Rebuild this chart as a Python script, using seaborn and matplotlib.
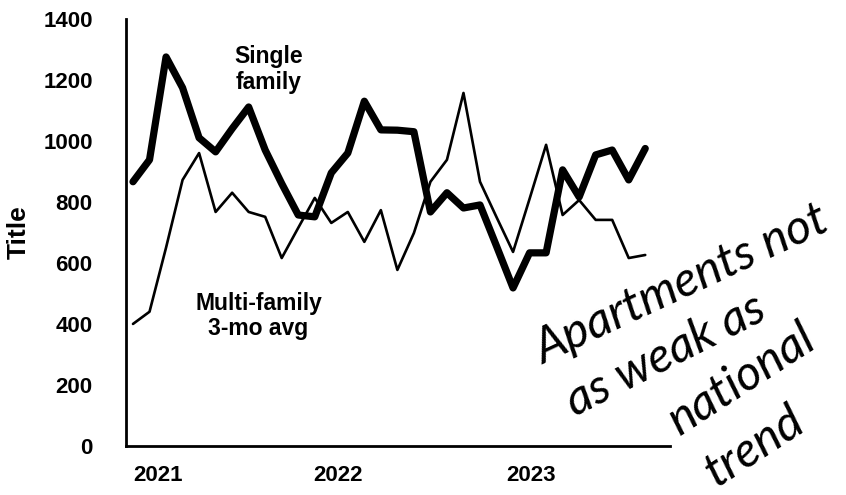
import matplotlib
matplotlib.use('Agg')
import matplotlib.pyplot as plt
import seaborn as sns
import pandas as pd
import numpy as np

# monthly values, Jan 2021 .. Aug 2023
single_family = [866, 938, 1275, 1174, 1010, 964, 1040, 1111, 970, 860,
                 757, 751, 895, 960, 1130, 1036, 1035, 1030, 767, 830,
                 780, 790, 655, 518, 633, 633, 905, 816, 954, 970,
                 872, 975]
multi_family = [400, 440, 650, 872, 960, 767, 830, 767, 751, 616,
                715, 813, 731, 767, 669, 773, 577, 698, 866, 938,
                1157, 866, 750, 636, 810, 987, 757, 806, 741, 741,
                616, 626]
year_labels = ['2021', '2022', '2023']
year_pos = [1.5, 12.4, 24.1]
y_ticks = [0, 200, 400, 600, 800, 1000, 1200, 1400]

df = pd.DataFrame({'month': np.arange(len(single_family)),
                   'single': single_family,
                   'multi': multi_family})

sns.set_theme(style='white', rc={'text.color': 'black', 'xtick.color': 'black',
                                 'ytick.color': 'black', 'axes.labelcolor': 'black'})
plt.rcParams['font.family'] = ['Liberation Sans', 'DejaVu Sans']

fig = plt.figure(figsize=(8.46, 4.95), dpi=100)
ax = fig.add_axes([0.149, 0.099, 0.643, 0.863])

sns.lineplot(data=df, x='month', y='multi', color='black', linewidth=1.9, ax=ax)
sns.lineplot(data=df, x='month', y='single', color='black', linewidth=5.2, ax=ax)

ax.set_xlim(-0.42, 32.5)
ax.set_ylim(0, 1400)
ax.set_yticks(y_ticks)
ax.set_yticklabels([str(v) for v in y_ticks], fontsize=16, fontweight='bold')
ax.set_xticks(year_pos)
ax.set_xticklabels(year_labels, fontsize=16, fontweight='bold')
ax.tick_params(axis='both', length=0)
ax.tick_params(axis='y', pad=24)
ax.tick_params(axis='x', pad=14)
ax.set_xlabel('')
ax.set_ylabel('Title', fontsize=19, fontweight='bold')
ax.yaxis.set_label_coords(-0.176, 0.5)

sns.despine(ax=ax)
for s in ['left', 'bottom']:
    ax.spines[s].set_color('black')
    ax.spines[s].set_linewidth(2)

ax.text(8.2, 1233, 'Single\nfamily', ha='center', va='center',
        fontsize=16.5, fontweight='bold', linespacing=1.15)
ax.text(7.6, 426, 'Multi-family\n3-mo avg', ha='center', va='center',
        fontsize=16.5, fontweight='bold', linespacing=1.15)

hand = dict(ha='center', va='center', rotation_mode='anchor', color='black',
            family=['Lato', 'DejaVu Sans'], style='italic', fontweight='normal')
fig.text(0.806, 0.425, 'Apartments not', fontsize=35, rotation=25, **hand)
fig.text(0.787, 0.283, 'as weak as', fontsize=35, rotation=27, **hand)
fig.text(0.877, 0.235, 'national', fontsize=35, rotation=33, **hand)
fig.text(0.892, 0.097, 'trend', fontsize=35, rotation=33, **hand)

fig.savefig('out.png', dpi=100)
